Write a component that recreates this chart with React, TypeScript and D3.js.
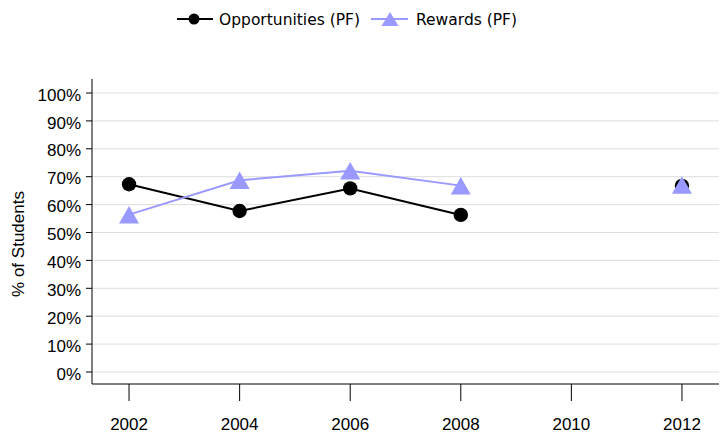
import React from "react";
import * as d3 from "d3";

const years = [2002, 2004, 2006, 2008, 2010, 2012];
const opportunities: (number | null)[] = [67.3, 57.7, 65.8, 56.3, null, 66.7];
const rewards: (number | null)[] = [56.4, 68.7, 72.1, 66.8, null, 67.0];
const yTicks = [0, 10, 20, 30, 40, 50, 60, 70, 80, 90, 100];
const seriesNames = ["Opportunities (PF)", "Rewards (PF)"];

const W = 727;
const H = 435;
const left = 92;
const right = 719;
const x = d3.scaleLinear().domain([2001.33, 2012.67]).range([left, right]);
const y = d3.scaleLinear().domain([0, 100]).range([372, 93]);

const BLACK = "#000000";
const LAV = "#9999FF";

function tri(w: number, h: number) {
  return `M0,${-h / 2}L${w / 2},${h / 2}L${-w / 2},${h / 2}Z`;
}

export default function App() {
  const line = d3
    .line<[number, number | null]>()
    .defined((d) => d[1] != null)
    .x((d) => x(d[0]))
    .y((d) => y(d[1] as number));
  const oppPts = years.map((yr, i) => [yr, opportunities[i]] as [number, number | null]);
  const rewPts = years.map((yr, i) => [yr, rewards[i]] as [number, number | null]);
  const axisFont = "'Liberation Sans', Arial, sans-serif";
  const legFont = "'DejaVu Sans', Verdana, sans-serif";
  return (
    <svg
      width={W}
      height={H}
      style={{ position: "absolute", left: 0, top: 0, background: "#fff" }}
    >
      {/* gridlines */}
      {yTicks.map((t) => (
        <line key={"g" + t} x1={left} x2={right} y1={y(t)} y2={y(t)} stroke="#dddddd" strokeWidth={1} />
      ))}
      {/* y axis */}
      <line x1={left} x2={left} y1={79} y2={384} stroke="#000" strokeWidth={1} />
      {yTicks.map((t) => (
        <g key={"yt" + t}>
          <line x1={left - 6} x2={left} y1={y(t)} y2={y(t)} stroke="#000" />
          <text
            x={81}
            y={y(t)}
            dy="0.45em"
            textAnchor="end"
            fontFamily={axisFont}
            fontSize={17}
            fill="#000"
          >
            {t + "%"}
          </text>
        </g>
      ))}
      {/* x axis */}
      <line x1={left} x2={right} y1={384} y2={384} stroke="#000" strokeWidth={1} />
      {years.map((yr) => (
        <g key={"xt" + yr}>
          <line x1={x(yr)} x2={x(yr)} y1={384} y2={401} stroke="#000" />
          <text x={x(yr)} y={430} textAnchor="middle" fontFamily={axisFont} fontSize={17} fill="#000">
            {yr}
          </text>
        </g>
      ))}
      <text
        transform={`translate(24,${244}) rotate(-90)`}
        textAnchor="middle"
        fontFamily={axisFont}
        fontSize={17}
        fill="#000"
      >
        % of Students
      </text>
      {/* Opportunities */}
      <path d={line(oppPts) || ""} fill="none" stroke={BLACK} strokeWidth={2} />
      {oppPts
        .filter((d) => d[1] != null)
        .map((d) => (
          <circle key={"o" + d[0]} cx={x(d[0])} cy={y(d[1] as number)} r={7.2} fill={BLACK} />
        ))}
      {/* Rewards */}
      <path d={line(rewPts) || ""} fill="none" stroke={LAV} strokeWidth={2} />
      {rewPts
        .filter((d) => d[1] != null)
        .map((d) => (
          <path
            key={"r" + d[0]}
            transform={`translate(${x(d[0])},${y(d[1] as number)})`}
            d={tri(20, 17.5)}
            fill={LAV}
          />
        ))}
      {/* legend */}
      <g>
        <line x1={177} x2={213} y1={19} y2={19} stroke={BLACK} strokeWidth={2} />
        <circle cx={194} cy={19} r={5.5} fill={BLACK} />
        <text x={219} y={24.5} fontFamily={legFont} fontSize={15.5} fill="#000">
          {seriesNames[0]}
        </text>
        <line x1={371} x2={408} y1={19} y2={19} stroke={LAV} strokeWidth={2} />
        <path transform="translate(390,19)" d={tri(17, 14)} fill={LAV} />
        <text x={416} y={24.5} fontFamily={legFont} fontSize={15.5} fill="#000">
          {seriesNames[1]}
        </text>
      </g>
    </svg>
  );
}
